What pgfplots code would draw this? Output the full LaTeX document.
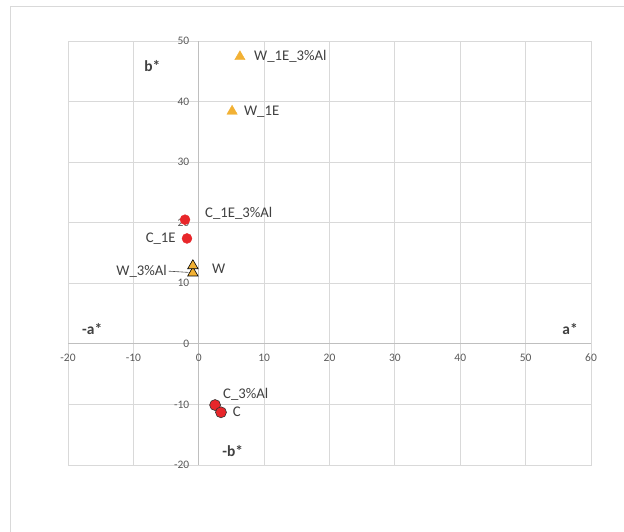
\documentclass[border=0pt]{standalone}
\usepackage{pgfplots}
\pgfplotsset{compat=1.18}
\usepackage{fontspec}
\setmainfont{Carlito}
\definecolor{gridc}{HTML}{D9D9D9}
\definecolor{axc}{HTML}{BFBFBF}
\definecolor{tickc}{HTML}{595959}
\definecolor{labc}{HTML}{404040}
\definecolor{orangeT}{HTML}{F2B134}
\definecolor{redC}{HTML}{E8262A}
\begin{document}
\begin{tikzpicture}[x=1bp,y=1bp]
\useasboundingbox (0,0) rectangle (624,532);
\draw[gridc, line width=1bp] (10,-5) -- (10,525) -- (640,525);
\begin{axis}[
  at={(68bp,67bp)}, anchor=south west,
  scale only axis, width=523bp, height=424bp,
  xmin=-20, xmax=60, ymin=-20, ymax=50,
  xtick={-20,-10,...,60}, ytick={-20,-10,...,50},
  xticklabels={}, yticklabels={},
  major tick length=0pt,
  grid=major,
  major grid style={gridc, line width=0.8bp},
  axis line style={gridc, line width=0.8bp},
  clip=false,
]
% axes through origin
\draw[axc, line width=1bp] (axis cs:-20,0) -- (axis cs:60,0);
\draw[axc, line width=1bp] (axis cs:0,-20) -- (axis cs:0,50);
% tick labels
\pgfplotsinvokeforeach{-20,-10,0,10,20,30,40,50,60}{
  \node[font=\fontsize{11.5}{13}\selectfont, text=tickc, yshift=-14bp] at (axis cs:#1,0) {#1};
}
\pgfplotsinvokeforeach{-20,-10,0,10,20,30,40,50}{
  \node[font=\fontsize{11.5}{13}\selectfont, text=tickc, anchor=east, xshift=-6bp] at (axis cs:0,#1) {#1};
}
% triangles with no outline
\addplot[only marks, mark=triangle*, mark size=6bp, mark options={fill=orangeT, draw=orangeT}]
  coordinates {(6.3,47.4) (5.1,38.4)};
% triangles with outline
\addplot[only marks, mark=triangle*, mark size=6bp, mark options={fill=orangeT, draw=black, line width=0.6bp}]
  coordinates {(-0.9,11.7) (-0.9,12.9)};
% circles no outline
\addplot[only marks, mark=*, mark size=5bp, mark options={fill=redC, draw=redC}]
  coordinates {(-2.1,20.5) (-1.8,17.4)};
% circles with outline
\addplot[only marks, mark=*, mark size=5.5bp, mark options={fill=redC, draw=black!80, line width=0.6bp}]
  coordinates {(2.5,-10.1) (3.4,-11.3)};
% data labels
\begin{scope}[every node/.style={font=\fontsize{14.8}{17}\selectfont, text=labc, inner sep=0pt}]
\node[anchor=west] at (axis cs:8.45,47.4) {W\_1E\_3\%Al};
\node[anchor=west] at (axis cs:6.9,38.4) {W\_1E};
\node[anchor=west] at (axis cs:0.95,21.6) {C\_1E\_3\%Al};
\node[anchor=east] at (axis cs:-3.5,17.4) {C\_1E};
\node[anchor=west] at (axis cs:2.0,12.4) {W};
\node[anchor=east] at (axis cs:-4.85,12.0) {W\_3\%Al};
\node[anchor=west] at (axis cs:3.7,-8.3) {C\_3\%Al};
\node[anchor=west] at (axis cs:5.2,-11.2) {C};
\end{scope}
\draw[black!70, line width=0.6bp] (axis cs:-4.6,12.0) -- (axis cs:-1.6,11.8);
% axis name labels
\begin{scope}[every node/.style={font=\bfseries\fontsize{15.5}{17}\selectfont, text=labc}]
\node at (axis cs:-7.1,45.9) {b*};
\node at (axis cs:-16.3,2.5) {-a*};
\node at (axis cs:56.8,2.5) {a*};
\node at (axis cs:5.2,-17.7) {-b*};
\end{scope}
\end{axis}
\end{tikzpicture}
\end{document}
